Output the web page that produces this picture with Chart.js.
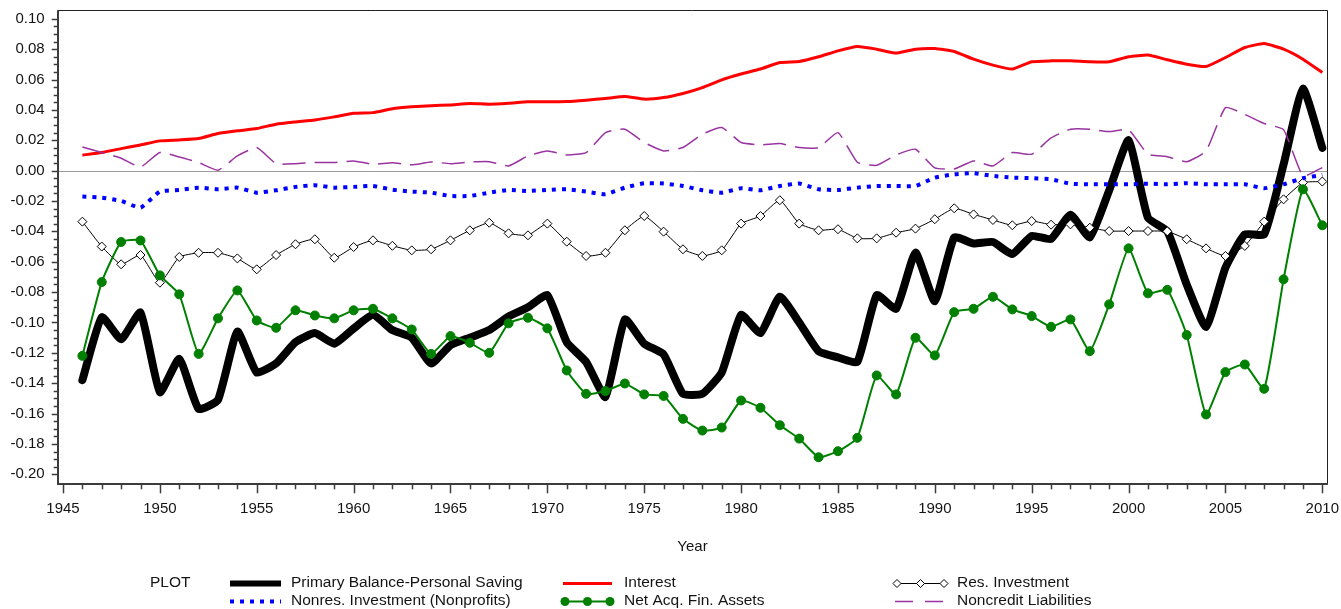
<!DOCTYPE html>
<html>
<head>
<meta charset="utf-8">
<title>Primary balance and components, 1946-2010</title>
<script src="https://cdn.jsdelivr.net/npm/chart.js@4.4.1/dist/chart.umd.min.js"></script>
<style>
  html, body { margin: 0; padding: 0; background: #ffffff; overflow: hidden; }
  #wrap { width: 1341px; height: 609px; position: relative; }
  canvas { display: block; }
</style>
</head>
<body>
<div id="wrap"><canvas id="chart" width="1341" height="609"></canvas></div>
<script>
// ---- data -------------------------------------------------------------
const years = [
  1946, 1947, 1948, 1949, 1950, 1951, 1952, 1953, 1954, 1955,
  1956, 1957, 1958, 1959, 1960, 1961, 1962, 1963, 1964, 1965,
  1966, 1967, 1968, 1969, 1970, 1971, 1972, 1973, 1974, 1975,
  1976, 1977, 1978, 1979, 1980, 1981, 1982, 1983, 1984, 1985,
  1986, 1987, 1988, 1989, 1990, 1991, 1992, 1993, 1994, 1995,
  1996, 1997, 1998, 1999, 2000, 2001, 2002, 2003, 2004, 2005,
  2006, 2007, 2008, 2009, 2010
];

const primaryBalance = [
  -0.138, -0.0965, -0.111, -0.0935, -0.146, -0.124, -0.157, -0.151, -0.106, -0.133,
  -0.127, -0.113, -0.107, -0.114, -0.104, -0.095, -0.105, -0.110, -0.127, -0.115,
  -0.110, -0.105, -0.096, -0.090, -0.082, -0.113, -0.126, -0.149, -0.098, -0.114,
  -0.121, -0.147, -0.147, -0.133, -0.095, -0.107, -0.083, -0.100, -0.119, -0.123,
  -0.126, -0.082, -0.091, -0.054, -0.086, -0.044, -0.048, -0.047, -0.055, -0.043,
  -0.045, -0.029, -0.044, -0.013, 0.020, -0.031, -0.040, -0.075, -0.103, -0.064,
  -0.042, -0.042, 0.004, 0.054, 0.015
];

const interest = [
  0.0102, 0.0119, 0.0145, 0.0169, 0.0196, 0.0202, 0.0211, 0.0244, 0.0262, 0.0277,
  0.0306, 0.0321, 0.0334, 0.0354, 0.0378, 0.0382, 0.0408, 0.0420, 0.0427, 0.0433,
  0.0442, 0.0438, 0.0444, 0.0453, 0.0453, 0.0455, 0.0464, 0.0475, 0.0488, 0.0471,
  0.0481, 0.0508, 0.0547, 0.0598, 0.0636, 0.0669, 0.0712, 0.0719, 0.0750, 0.0789,
  0.0818, 0.0800, 0.0774, 0.0800, 0.0804, 0.0785, 0.0734, 0.0695, 0.0669, 0.0717,
  0.0723, 0.0723, 0.0717, 0.0717, 0.0750, 0.0761, 0.0730, 0.0701, 0.0686, 0.0745,
  0.0811, 0.0837, 0.0800, 0.0734, 0.0646
];

const resInvestment = [
  -0.0336, -0.0500, -0.0617, -0.0556, -0.0738, -0.0569, -0.0541, -0.0541, -0.0578, -0.0650,
  -0.0556, -0.0485, -0.0452, -0.0574, -0.0503, -0.0459, -0.0495, -0.0525, -0.0518, -0.0459,
  -0.0393, -0.0343, -0.0413, -0.0426, -0.0349, -0.0468, -0.0562, -0.0541, -0.0393, -0.0299,
  -0.0402, -0.0518, -0.0562, -0.0525, -0.0349, -0.0299, -0.0195, -0.0349, -0.0393, -0.0386,
  -0.0446, -0.0446, -0.0409, -0.0382, -0.0320, -0.0248, -0.0288, -0.0325, -0.0360, -0.0332,
  -0.0356, -0.0354, -0.0376, -0.0398, -0.0398, -0.0398, -0.0400, -0.0452, -0.0512, -0.0562,
  -0.0496, -0.0336, -0.0189, -0.0079, -0.0072
];

const nonresInvestment = [
  -0.0171, -0.0178, -0.0200, -0.0244, -0.0138, -0.0127, -0.0112, -0.0123, -0.0112, -0.0145,
  -0.0129, -0.0107, -0.0096, -0.0112, -0.0107, -0.0101, -0.0125, -0.0138, -0.0145, -0.0167,
  -0.0167, -0.0145, -0.0127, -0.0134, -0.0127, -0.0123, -0.0138, -0.0156, -0.0112, -0.0083,
  -0.0085, -0.0101, -0.0129, -0.0145, -0.0116, -0.0129, -0.0101, -0.0085, -0.0123, -0.0127,
  -0.0112, -0.0101, -0.0101, -0.0101, -0.0046, -0.0024, -0.0017, -0.0035, -0.0046, -0.0050,
  -0.0057, -0.0086, -0.0090, -0.0090, -0.0090, -0.0086, -0.0090, -0.0083, -0.0090, -0.0090,
  -0.0090, -0.0116, -0.0090, -0.0050, -0.0028
];

const netAcqFinAssets = [
  -0.1220, -0.0734, -0.0470, -0.0460, -0.0690, -0.0815, -0.1207, -0.0973, -0.0789, -0.0987,
  -0.1035, -0.0920, -0.0954, -0.0973, -0.0920, -0.0910, -0.0973, -0.1046, -0.1207, -0.1090,
  -0.1134, -0.1200, -0.1006, -0.0969, -0.1039, -0.1316, -0.1470, -0.1452, -0.1402, -0.1474,
  -0.1484, -0.1635, -0.1712, -0.1692, -0.1514, -0.1562, -0.1677, -0.1765, -0.1888, -0.1848,
  -0.1760, -0.1349, -0.1474, -0.1101, -0.1217, -0.0932, -0.0910, -0.0831, -0.0914, -0.0958,
  -0.1029, -0.0980, -0.1189, -0.0881, -0.0512, -0.0808, -0.0785, -0.1083, -0.1606, -0.1327,
  -0.1277, -0.1437, -0.0716, -0.0123, -0.0360
];

const noncreditLiabilities = [
  0.0156, 0.0119, 0.0082, 0.0024, 0.0119, 0.0090, 0.0053, 0.0003, 0.0097, 0.0152,
  0.0046, 0.0046, 0.0053, 0.0053, 0.0064, 0.0042, 0.0052, 0.0038, 0.0057, 0.0046,
  0.0057, 0.0059, 0.0031, 0.0097, 0.0130, 0.0103, 0.0119, 0.0251, 0.0273, 0.0185,
  0.0130, 0.0152, 0.0240, 0.0284, 0.0185, 0.0170, 0.0178, 0.0152, 0.0152, 0.0250,
  0.0055, 0.0035, 0.0103, 0.0141, 0.0018, 0.0011, 0.0064, 0.0031, 0.0119, 0.0108,
  0.0215, 0.0273, 0.0273, 0.0257, 0.0270, 0.0108, 0.0092, 0.0058, 0.0130, 0.0415,
  0.0370, 0.0310, 0.0270, -0.0035, 0.0020
];

const seriesLabels = [
  'Primary Balance-Personal Saving',
  'Interest',
  'Res. Investment',
  'Nonres. Investment (Nonprofits)',
  'Net Acq. Fin. Assets',
  'Noncredit Liabilities'
];

const xTickValues = [1945, 1950, 1955, 1960, 1965, 1970, 1975, 1980, 1985, 1990, 1995, 2000, 2005, 2010];
const yTickValues = [-0.20, -0.18, -0.16, -0.14, -0.12, -0.10, -0.08, -0.06, -0.04, -0.02, 0.00, 0.02, 0.04, 0.06, 0.08, 0.10];

const xAxisTitle = 'Year';
const legendTitle = 'PLOT';

// ---- styling ----------------------------------------------------------
const FONT = "'Liberation Sans', Arial, Helvetica, sans-serif";
const TEXT = '#141414';
const AXIS = '#3c3c3c';
const GREEN = '#008000';
const PURPLE = '#9933a0';
const TENSION = 0.15;

const toPoints = (vals) => years.map((yr, i) => ({ x: yr, y: vals[i] }));

const datasets = [
  { label: seriesLabels[0], data: toPoints(primaryBalance), borderColor: '#000000', borderWidth: 8,
    pointRadius: 0, tension: TENSION, order: 6, borderJoinStyle: 'round', borderCapStyle: 'round' },
  { label: seriesLabels[1], data: toPoints(interest), borderColor: '#ff0000', borderWidth: 3,
    pointRadius: 0, tension: TENSION, order: 5 },
  { label: seriesLabels[2], data: toPoints(resInvestment), borderColor: '#000000', borderWidth: 1,
    pointStyle: 'rectRot', pointRadius: 4.5, pointBackgroundColor: '#ffffff', pointBorderColor: '#000000',
    pointBorderWidth: 1, tension: TENSION, order: 4 },
  { label: seriesLabels[3], data: toPoints(nonresInvestment), borderColor: '#0000ff', borderWidth: 4,
    borderDash: [4, 6], borderCapStyle: 'butt', pointRadius: 0, tension: TENSION, order: 3 },
  { label: seriesLabels[4], data: toPoints(netAcqFinAssets), borderColor: GREEN, borderWidth: 2,
    pointStyle: 'circle', pointRadius: 4.5, pointBackgroundColor: GREEN, pointBorderColor: GREEN,
    pointBorderWidth: 1, tension: TENSION, order: 2 },
  { label: seriesLabels[5], data: toPoints(noncreditLiabilities), borderColor: PURPLE, borderWidth: 1.5,
    borderDash: [23, 9], pointRadius: 0, tension: TENSION, order: 1 }
];

// zero reference line, frame, tick marks, axis title and the key
const decorations = {
  id: 'decorations',
  beforeDatasetsDraw(chart) {
    const { ctx, chartArea: a, scales: { y } } = chart;
    const y0 = Math.round(y.getPixelForValue(0)) + 0.5;
    ctx.save();
    ctx.strokeStyle = '#9c9c9c';
    ctx.lineWidth = 1;
    ctx.beginPath();
    ctx.moveTo(a.left, y0);
    ctx.lineTo(a.right, y0);
    ctx.stroke();
    ctx.restore();
  },
  afterDatasetsDraw(chart) {
    const { ctx, chartArea: a, scales: { x, y } } = chart;
    ctx.save();
    // top and right border
    ctx.strokeStyle = '#202020';
    ctx.lineWidth = 1;
    ctx.beginPath();
    ctx.moveTo(a.left, Math.round(a.top) + 0.5);
    ctx.lineTo(Math.round(a.right) + 0.5, Math.round(a.top) + 0.5);
    ctx.lineTo(Math.round(a.right) + 0.5, a.bottom);
    ctx.stroke();
    // left and bottom axis lines
    ctx.strokeStyle = AXIS;
    ctx.lineWidth = 2;
    ctx.beginPath();
    ctx.moveTo(Math.round(a.left), a.top);
    ctx.lineTo(Math.round(a.left), Math.round(a.bottom));
    ctx.lineTo(a.right + 0.5, Math.round(a.bottom));
    ctx.stroke();
    // y tick marks: majors every 0.02, minors every 0.005
    ctx.lineWidth = 1.5;
    for (let k = -40; k <= 20; k++) {
      const py = Math.round(y.getPixelForValue(k * 0.005)) + 0.5;
      if (py < a.top || py > a.bottom) continue;
      const len = (k % 4 === 0) ? 6 : 4;
      ctx.beginPath();
      ctx.moveTo(a.left - len, py);
      ctx.lineTo(a.left, py);
      ctx.stroke();
    }
    // x tick marks: majors every 5 years, minors every year
    for (let yr = 1945; yr <= 2010; yr++) {
      const px = Math.round(x.getPixelForValue(yr)) + 0.5;
      const len = (yr % 5 === 0) ? 9 : 5;
      ctx.beginPath();
      ctx.moveTo(px, a.bottom);
      ctx.lineTo(px, a.bottom + len);
      ctx.stroke();
    }
    ctx.restore();
  },
  afterDraw(chart) {
    const { ctx, chartArea: a } = chart;
    ctx.save();
    ctx.fillStyle = TEXT;
    ctx.font = '15px ' + FONT;
    ctx.textBaseline = 'middle';
    ctx.textAlign = 'center';
    ctx.fillText(xAxisTitle, (a.left + a.right) / 2, 547);

    // key
    ctx.font = '15.5px ' + FONT;
    ctx.textAlign = 'left';
    ctx.fillText(legendTitle, 150, 583);
    const row1 = 583, row2 = 601;
    const cols = [{ s: 230, e: 281, t: 291 }, { s: 563, e: 612, t: 624 }, { s: 895, e: 946, t: 957 }];
    const entries = [
      { ds: 0, col: 0, row: row1 }, { ds: 1, col: 1, row: row1 }, { ds: 2, col: 2, row: row1 },
      { ds: 3, col: 0, row: row2 }, { ds: 4, col: 1, row: row2 }, { ds: 5, col: 2, row: row2 }
    ];
    entries.forEach(({ ds, col, row }) => {
      const d = chart.data.datasets[ds];
      const c = cols[col];
      ctx.save();
      ctx.strokeStyle = d.borderColor;
      ctx.lineCap = 'butt';
      if (ds === 0) {
        ctx.lineWidth = 6;
      } else if (ds === 1) {
        ctx.lineWidth = 3;
      } else if (ds === 3) {
        ctx.lineWidth = 4;
        ctx.setLineDash([4, 6]);
      } else if (ds === 5) {
        ctx.lineWidth = 1.5;
        ctx.setLineDash([18, 12]);
      } else {
        ctx.lineWidth = d.borderWidth;
      }
      ctx.beginPath();
      ctx.moveTo(c.s, row + 0.5);
      ctx.lineTo(c.e, row + 0.5);
      ctx.stroke();
      ctx.setLineDash([]);
      if (ds === 2 || ds === 4) {
        const mid = (c.s + c.e) / 2;
        [c.s + 2, mid, c.e - 2].forEach((mx) => {
          ctx.beginPath();
          if (ds === 2) {
            const r = 4;
            ctx.moveTo(mx, row + 0.5 - r);
            ctx.lineTo(mx + r, row + 0.5);
            ctx.lineTo(mx, row + 0.5 + r);
            ctx.lineTo(mx - r, row + 0.5);
            ctx.closePath();
            ctx.fillStyle = '#ffffff';
            ctx.fill();
            ctx.lineWidth = 1;
            ctx.strokeStyle = '#000000';
            ctx.stroke();
          } else {
            ctx.arc(mx, row + 0.5, 4.5, 0, Math.PI * 2);
            ctx.fillStyle = GREEN;
            ctx.fill();
          }
        });
      }
      ctx.restore();
      ctx.fillStyle = TEXT;
      ctx.fillText(d.label, c.t, row);
    });
    ctx.restore();
  }
};

const ctx = document.getElementById('chart').getContext('2d');
new Chart(ctx, {
  type: 'line',
  data: { datasets },
  plugins: [decorations],
  options: {
    responsive: false,
    animation: false,
    devicePixelRatio: 1,
    layout: { padding: { top: 10.3, right: 13.7, bottom: 0, left: 0 } },
    plugins: { legend: { display: false }, tooltip: { enabled: false } },
    elements: { line: { fill: false } },
    scales: {
      x: {
        type: 'linear',
        position: 'bottom',
        min: 1944.726,
        max: 2010.258,
        afterBuildTicks: (s) => { s.ticks = xTickValues.map((v) => ({ value: v })); },
        afterFit: (s) => { s.height = 124.7; s.paddingLeft = 0; s.paddingRight = 0; },
        grid: { display: false, drawTicks: false },
        border: { display: false },
        ticks: {
          autoSkip: false, maxRotation: 0, padding: 16,
          color: TEXT, font: { family: FONT, size: 15 },
          callback: (v) => String(v)
        }
      },
      y: {
        type: 'linear',
        position: 'left',
        min: -0.2066,
        max: 0.1056,
        afterBuildTicks: (s) => { s.ticks = yTickValues.map((v) => ({ value: v })); },
        afterFit: (s) => { s.width = 57.7; s.paddingTop = 0; s.paddingBottom = 0; },
        grid: { display: false, drawTicks: false },
        border: { display: false },
        ticks: {
          autoSkip: false, padding: 13,
          color: TEXT, font: { family: FONT, size: 15 },
          callback: (v) => Number(v).toFixed(2)
        }
      }
    }
  }
});
</script>
</body>
</html>
